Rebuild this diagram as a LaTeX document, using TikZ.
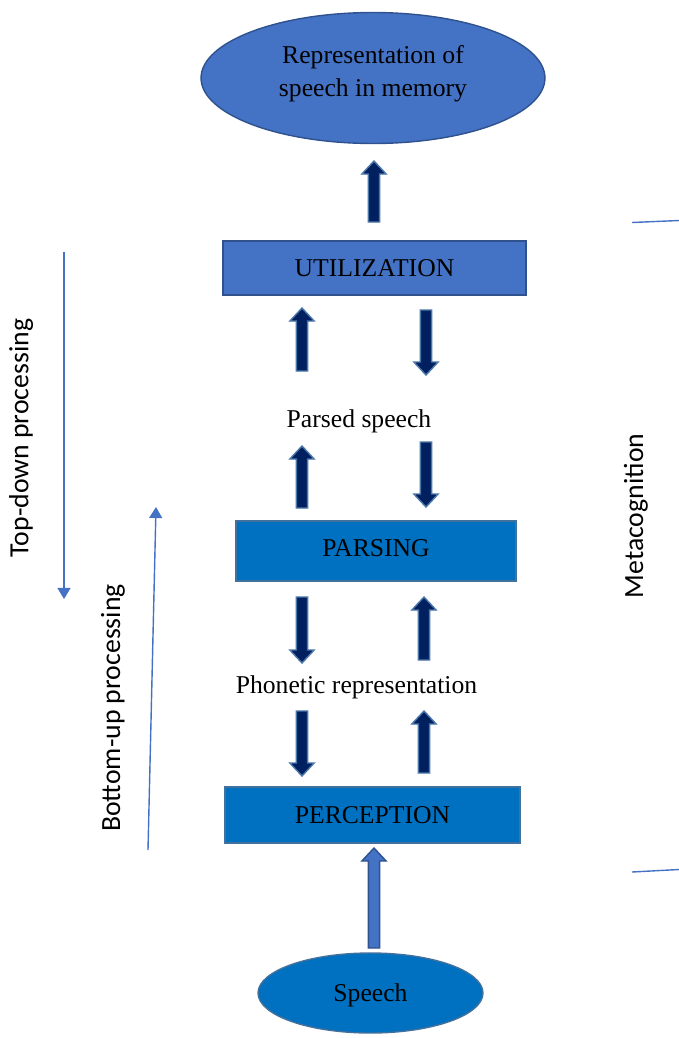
\documentclass[tikz,border=0pt]{standalone}
\usepackage{fontspec}
\setmainfont{Liberation Serif}
\setsansfont{Carlito}
\usetikzlibrary{arrows.meta,shapes.geometric,calc}

\definecolor{softblue}{HTML}{4472C4}
\definecolor{softedge}{HTML}{2F528F}
\definecolor{brightblue}{HTML}{0070C0}
\definecolor{brightedge}{HTML}{41719C}
\definecolor{navyfill}{HTML}{002060}
\definecolor{navyedge}{HTML}{4A76A8}

% Vertical block arrow from #2 (tail) to #3 (tip), drawn as a filled outline
\newcommand{\blockarrow}[3]{%
  \draw[#1] let \p1=(#2), \p2=(#3), \n1={\y2-((\y2>\y1)*2-1)*7.4pt} in
    (\x1-3.2pt,\y1) -- (\x1-3.2pt,\n1) -- (\x1-6.9pt,\n1)
    -- (\x2,\y2) -- (\x1+6.9pt,\n1) -- (\x1+3.2pt,\n1)
    -- (\x1+3.2pt,\y1) -- cycle;}

\tikzset{
  serif/.style={font=\rmfamily\fontsize{14.6}{18.8}\selectfont, text=black},
  sidelabel/.style={font=\sffamily\fontsize{15.8}{19}\selectfont, text=black, rotate=90, inner sep=0pt},
  softshape/.style={fill=softblue, draw=softedge, line width=0.8pt},
  brightshape/.style={fill=brightblue, draw=brightedge, line width=0.8pt},
  stagebox/.style={rectangle, inner sep=0pt},
  oval/.style={ellipse, inner sep=0pt},
  navyarrow/.style={fill=navyfill, draw=navyedge, line width=0.8pt, line join=miter},
  softarrow/.style={fill=softblue, draw=softedge, line width=0.8pt, line join=miter},
  thinline/.style={draw=softblue, line width=0.8pt},
  thinarrow/.style={thinline, -{Triangle[length=6.3pt,width=7.4pt]}}
}

\begin{document}
\begin{tikzpicture}[x=0.02cm, y=-0.02cm]
  \path[use as bounding box] (0,0) rectangle (679,1038);

  % stages of the model
  \node[oval, softshape, minimum width=6.88cm, minimum height=2.62cm] (mem) at (373,78) {};
  \node[serif, align=center] (memtext) at (373,74) {Representation of\\speech in memory};
  \node[stagebox, softshape, minimum width=6.06cm, minimum height=1.08cm, serif] (util) at (374.5,268) {UTILIZATION};
  \node[serif] (parsed) at (359,421) {Parsed speech};
  \node[stagebox, brightshape, minimum width=5.6cm, minimum height=1.2cm] (parsing) at (376,551) {};
  \node[serif] (parsingtext) at (376,548) {PARSING};
  \node[serif] (phonetic) at (356.5,687) {Phonetic representation};
  \node[stagebox, brightshape, minimum width=5.9cm, minimum height=1.12cm, serif] (percep) at (372.5,815) {PERCEPTION};
  \node[oval, brightshape, minimum width=4.5cm, minimum height=1.6cm] (speech) at (370.5,993) {};
  \node[serif] (speechtext) at (370.5,995) {Speech};

  % arrow end points
  \coordinate (m0) at (374,222);  \coordinate (m1) at (374,161);
  \coordinate (u1a) at (302,371); \coordinate (u1b) at (302,308);
  \coordinate (d1a) at (426,310); \coordinate (d1b) at (426,375);
  \coordinate (u2a) at (302,508); \coordinate (u2b) at (302,446);
  \coordinate (d2a) at (426,442); \coordinate (d2b) at (426,507);
  \coordinate (d3a) at (302,597); \coordinate (d3b) at (302,663);
  \coordinate (u3a) at (424,660); \coordinate (u3b) at (424,597);
  \coordinate (d4a) at (302,711); \coordinate (d4b) at (302,776);
  \coordinate (u4a) at (424,773); \coordinate (u4b) at (424,711);
  \coordinate (s0) at (374,948);  \coordinate (s1) at (374,848);

  \blockarrow{navyarrow}{m0}{m1}
  \blockarrow{navyarrow}{u1a}{u1b}
  \blockarrow{navyarrow}{d1a}{d1b}
  \blockarrow{navyarrow}{u2a}{u2b}
  \blockarrow{navyarrow}{d2a}{d2b}
  \blockarrow{navyarrow}{d3a}{d3b}
  \blockarrow{navyarrow}{u3a}{u3b}
  \blockarrow{navyarrow}{d4a}{d4b}
  \blockarrow{navyarrow}{u4a}{u4b}
  \blockarrow{softarrow}{s0}{s1}

  % processing directions
  \coordinate (td0) at (64,252);  \coordinate (td1) at (64,599);
  \coordinate (bu0) at (148,850); \coordinate (bu1) at (156,507);
  \draw[thinarrow] (td0) -- (td1);
  \draw[thinarrow] (bu0) -- (bu1);
  \node[sidelabel] (tdlabel) at (21,438) {Top-down processing};
  \node[sidelabel] (bulabel) at (113,708) {Bottom-up processing};

  % metacognition bracket
  \coordinate (mc0) at (632,222.5); \coordinate (mc1) at (679,220.5);
  \coordinate (mc2) at (632,872);   \coordinate (mc3) at (679,869.5);
  \draw[thinline] (mc0) -- (mc1);
  \draw[thinline] (mc2) -- (mc3);
  \node[sidelabel] (meta) at (636,516) {Metacognition};
\end{tikzpicture}
\end{document}
